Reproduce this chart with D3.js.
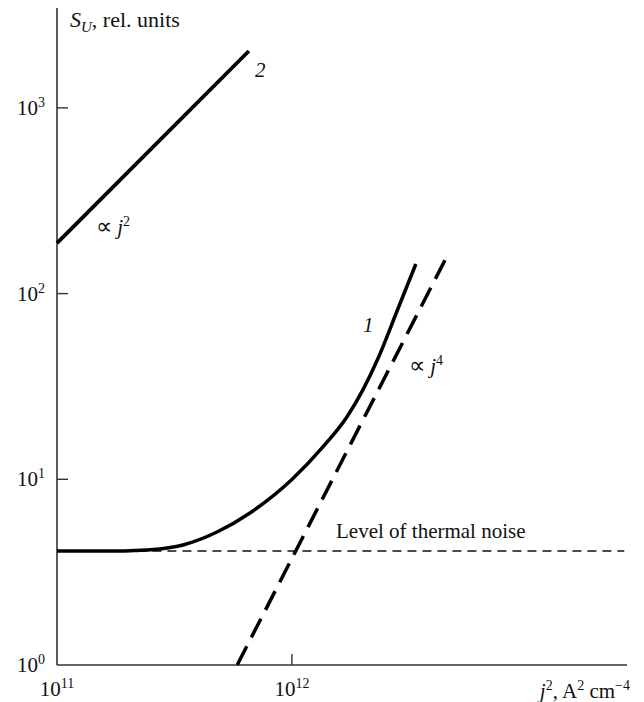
<!DOCTYPE html>
<html>
<head>
<meta charset="utf-8">
<script src="https://cdn.jsdelivr.net/npm/d3@7/dist/d3.min.js"></script>
<style>
  html, body { margin: 0; padding: 0; background: #fff; }
  svg { display: block; }
  text { font-family: "Liberation Serif", "Times New Roman", serif; fill: #111; }
</style>
</head>
<body>
<svg id="chart" width="644" height="702"></svg>
<script>
// Tick values and their exponent labels
const xTicks = [1e11, 1e12];
const xTickExp = ["11", "12"];
const yTicks = [1, 10, 100, 1000];
const yTickExp = ["0", "1", "2", "3"];

// Curve 1: measured noise S_U versus j^2
const curve1J2 = [1e11, 1.85e11, 2.11e11, 2.49e11, 3.44e11, 4.80e11, 6.63e11, 1.0e12, 1.355e12, 1.714e12, 2.005e12, 2.32e12, 2.825e12, 3.37e12];
const curve1S  = [4.11, 4.11, 4.13, 4.17, 4.43, 5.20, 6.59, 9.97, 14.93, 21.65, 30.3, 44.45, 82.6, 144.3];

// Curve 2: the upper straight line, proportional to j^2
const curve2J2 = [1e11, 6.56e11];
const curve2S  = [187, 2025];

// Dashed asymptote proportional to j^4
const slopeJ2 = [5.85e11, 4.62e12];
const slopeS  = [1, 163];

// Thermal-noise level
const thermalJ2 = [2.2e11, 2.6e13];
const thermalS  = [4.11, 4.11];

const svg = d3.select("#chart");

const x = d3.scaleLog().domain([1e11, 2.67e13]).range([57, 627]);
const y = d3.scaleLog().domain([1, 3450]).range([665, 8]);

const axisColor = "#333";
const FS = 21, SUP = 14;

// Axis lines
svg.append("line")
  .attr("x1", x(1e11)).attr("x2", x(1e11))
  .attr("y1", y(1)).attr("y2", y(3450))
  .attr("stroke", axisColor).attr("stroke-width", 1.6);
svg.append("line")
  .attr("x1", x(1e11)).attr("x2", x(2.67e13))
  .attr("y1", y(1)).attr("y2", y(1))
  .attr("stroke", axisColor).attr("stroke-width", 1.6);

// Inward ticks on the y axis (skip the origin)
svg.selectAll("line.ytick")
  .data(yTicks.slice(1))
  .join("line")
  .attr("class", "ytick")
  .attr("x1", x(1e11)).attr("x2", x(1e11) + 11)
  .attr("y1", d => y(d)).attr("y2", d => y(d))
  .attr("stroke", axisColor).attr("stroke-width", 1.4);

// Inward ticks on the x axis (skip the origin)
svg.selectAll("line.xtick")
  .data(xTicks.slice(1))
  .join("line")
  .attr("class", "xtick")
  .attr("x1", d => x(d)).attr("x2", d => x(d))
  .attr("y1", y(1)).attr("y2", y(1) - 11)
  .attr("stroke", axisColor).attr("stroke-width", 1.4);

// Y tick labels: 10^n
yTicks.forEach((v, i) => {
  const t = svg.append("text")
    .attr("x", 45).attr("y", y(v) + 7)
    .attr("text-anchor", "end")
    .style("font-size", FS + "px");
  t.append("tspan").text("10");
  t.append("tspan").attr("dy", -8).style("font-size", SUP + "px").text(yTickExp[i]);
});

// X tick labels: 10^n
xTicks.forEach((v, i) => {
  const t = svg.append("text")
    .attr("x", x(v)).attr("y", 696)
    .attr("text-anchor", "middle")
    .style("font-size", FS + "px");
  t.append("tspan").text("10");
  t.append("tspan").attr("dy", -8).style("font-size", SUP + "px").text(xTickExp[i]);
});

// Axis titles
const yTitle = svg.append("text").attr("x", 70).attr("y", 27).style("font-size", "22px");
yTitle.append("tspan").style("font-style", "italic").text("S");
yTitle.append("tspan").attr("dy", 5).style("font-style", "italic").style("font-size", "15px").text("U");
yTitle.append("tspan").attr("dy", -5).text(", rel. units");

const xTitle = svg.append("text").attr("x", 630).attr("y", 698)
  .attr("text-anchor", "end").style("font-size", FS + "px");
xTitle.append("tspan").style("font-style", "italic").text("j");
xTitle.append("tspan").attr("dy", -8).style("font-size", SUP + "px").text("2");
xTitle.append("tspan").attr("dy", 8).text(", A");
xTitle.append("tspan").attr("dy", -8).style("font-size", SUP + "px").text("2");
xTitle.append("tspan").attr("dy", 8).text(" cm");
xTitle.append("tspan").attr("dy", -8).style("font-size", SUP + "px").text("\u22124");

// Series
const line = d3.line().x(d => x(d[0])).y(d => y(d[1]));
const smooth = d3.line().x(d => x(d[0])).y(d => y(d[1])).curve(d3.curveMonotoneX);

svg.append("path")
  .datum(thermalJ2.map((v, i) => [v, thermalS[i]]))
  .attr("d", line)
  .attr("fill", "none").attr("stroke", "#111")
  .attr("stroke-width", 1.5).attr("stroke-dasharray", "9,6");

svg.append("path")
  .datum(slopeJ2.map((v, i) => [v, slopeS[i]]))
  .attr("d", line)
  .attr("fill", "none").attr("stroke", "#000")
  .attr("stroke-width", 3.5).attr("stroke-dasharray", "21,10");

svg.append("path")
  .datum(curve1J2.map((v, i) => [v, curve1S[i]]))
  .attr("d", smooth)
  .attr("fill", "none").attr("stroke", "#000")
  .attr("stroke-width", 3.5);

svg.append("path")
  .datum(curve2J2.map((v, i) => [v, curve2S[i]]))
  .attr("d", line)
  .attr("fill", "none").attr("stroke", "#000")
  .attr("stroke-width", 3.8);

// Annotations
svg.append("text").attr("x", 255).attr("y", 77)
  .style("font-size", FS + "px").style("font-style", "italic").text("2");
svg.append("text").attr("x", 363).attr("y", 332)
  .style("font-size", FS + "px").style("font-style", "italic").text("1");

const a2 = svg.append("text").attr("x", 96).attr("y", 234).style("font-size", FS + "px");
a2.append("tspan").style("font-size", "23px").text("\u221D");
a2.append("tspan").style("font-style", "italic").text(" j");
a2.append("tspan").attr("dy", -8).style("font-size", SUP + "px").text("2");

const a4 = svg.append("text").attr("x", 409).attr("y", 373).style("font-size", FS + "px");
a4.append("tspan").style("font-size", "23px").text("\u221D");
a4.append("tspan").style("font-style", "italic").text(" j");
a4.append("tspan").attr("dy", -8).style("font-size", SUP + "px").text("4");

svg.append("text").attr("x", 336).attr("y", 538)
  .style("font-size", FS + "px").text("Level of thermal noise");
</script>
</body>
</html>
